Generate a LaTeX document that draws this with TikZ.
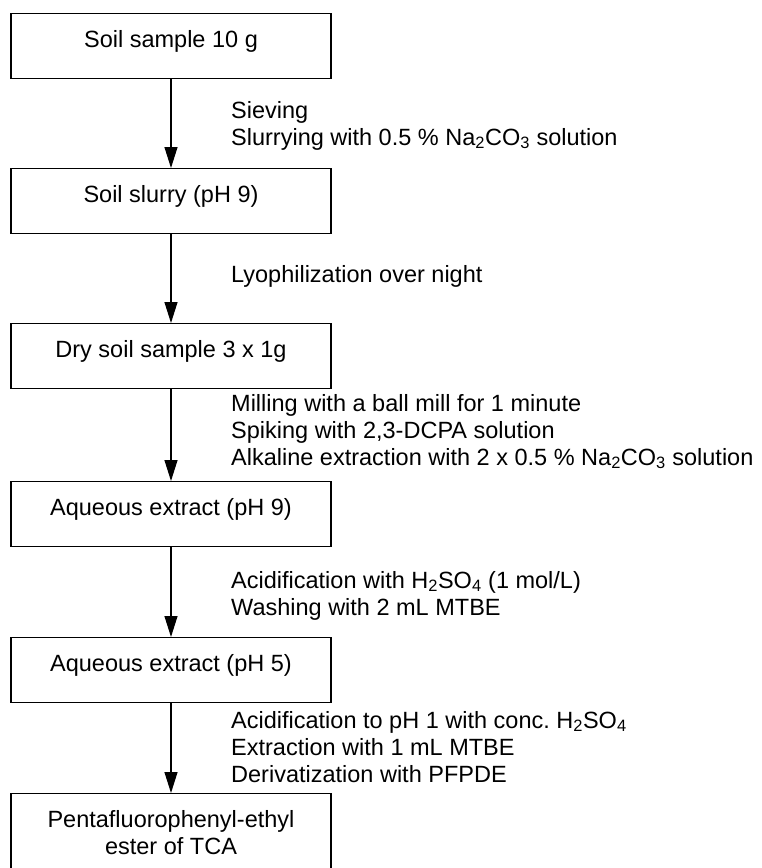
\documentclass[tikz,border=0pt]{standalone}
\usepackage{fontspec}
\setmainfont{Liberation Sans}
\usetikzlibrary{arrows.meta}

\begin{document}
\begin{tikzpicture}[x=1pt, y=-1pt,
  stepbox/.style={rectangle, draw, line width=1.3pt, minimum width=320pt,
    anchor=north, align=center, inner sep=0pt, text height=34pt, text depth=31pt,
    font=\fontsize{23.5}{27}\selectfont},
  note/.style={anchor=base west, align=left, inner sep=0pt,
    font=\fontsize{23.5}{27}\selectfont},
  flow/.style={-{Triangle[length=21pt,width=13pt]}, line width=1.2pt}]
\useasboundingbox (0,0) rectangle (761,868);

\node[stepbox] (soil)    at (171,13)  {Soil sample 10 g};
\node[stepbox] (slurry)  at (171,168) {Soil slurry (pH 9)};
\node[stepbox] (dry)     at (171,323) {Dry soil sample 3 x 1g};
\node[stepbox] (extr9)   at (171,481) {Aqueous extract (pH 9)};
\node[stepbox] (extr5)   at (171,637) {Aqueous extract (pH 5)};
\node[stepbox, text height=61pt, text depth=25pt] (ester) at (171,793) {Pentafluorophenyl-ethyl\\ester of TCA};

\draw[flow] (soil)   -- (slurry);
\draw[flow] (slurry) -- (dry);
\draw[flow] (dry)    -- (extr9);
\draw[flow] (extr9)  -- (extr5);
\draw[flow] (extr5)  -- (ester);

% multi-line notes sit on the baseline of their last line
\node[note] (sieve) at (231,145) {Sieving\\Slurrying with 0.5 \% Na\textsubscript{2}CO\textsubscript{3} solution};
\node[note] (lyo)   at (231,282) {Lyophilization over night};
\node[note] (mill)  at (231,465) {Milling with a ball mill for 1 minute\\Spiking with 2,3-DCPA solution\\Alkaline extraction with 2 x 0.5 \% Na\textsubscript{2}CO\textsubscript{3} solution};
\node[note] (acid)  at (231,615) {Acidification with H\textsubscript{2}SO\textsubscript{4} (1 mol/L)\\Washing with 2 mL MTBE};
\node[note] (deriv) at (231,782) {Acidification to pH 1 with conc.\ H\textsubscript{2}SO\textsubscript{4}\\Extraction with 1 mL MTBE\\Derivatization with PFPDE};
\end{tikzpicture}
\end{document}
